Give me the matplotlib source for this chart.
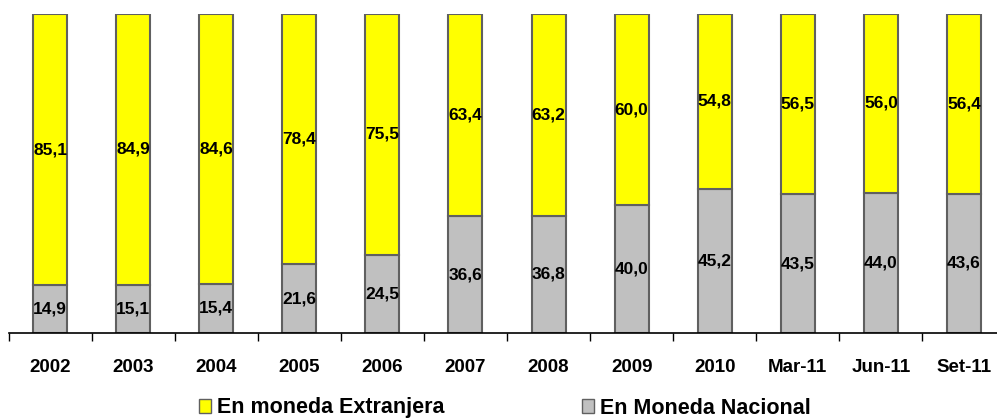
import matplotlib.pyplot as plt
from matplotlib.patches import Patch

plt.rcParams['font.family'] = ['Liberation Sans', 'DejaVu Sans']

categories = ["2002", "2003", "2004", "2005", "2006", "2007", "2008",
              "2009", "2010", "Mar-11", "Jun-11", "Set-11"]
nacional = [14.9, 15.1, 15.4, 21.6, 24.5, 36.6, 36.8, 40.0, 45.2, 43.5, 44.0, 43.6]
extranjera = [85.1, 84.9, 84.6, 78.4, 75.5, 63.4, 63.2, 60.0, 54.8, 56.5, 56.0, 56.4]

gray = "#C0C0C0"
yellow = "#FFFF00"
edge = "#606060"

fig = plt.figure(figsize=(9.97, 4.2), dpi=100)
ax = fig.add_axes([8.5 / 997, 1 - 333 / 420, 997 / 997, 319 / 420])

x = list(range(len(categories)))
w = 0.41
ax.bar(x, nacional, width=w, color=gray, edgecolor=edge, linewidth=1.5)
ax.bar(x, extranjera, width=w, bottom=nacional, color=yellow, edgecolor=edge, linewidth=1.5)

for i in x:
    ax.text(i, nacional[i] / 2, f"{nacional[i]:.1f}".replace(".", ","),
            ha="center", va="center", fontsize=12.5, fontweight="bold")
    ax.text(i, nacional[i] + extranjera[i] / 2, f"{extranjera[i]:.1f}".replace(".", ","),
            ha="center", va="center", fontsize=12.5, fontweight="bold")

ax.set_xlim(-0.5, len(categories) - 0.5)
ax.set_ylim(0, 100)
ax.set_yticks([])
for s in ["left", "right", "top"]:
    ax.spines[s].set_visible(False)
ax.spines["bottom"].set_linewidth(1.2)

ax.set_xticks(x)
ax.set_xticklabels(categories, fontsize=13.5, fontweight="bold")
ax.tick_params(axis="x", which="major", length=0, pad=18.5)
ax.set_xticks([i - 0.5 for i in range(len(categories) + 1)], minor=True)
ax.tick_params(axis="x", which="minor", length=6, width=1, direction="out")

handles = [Patch(facecolor=yellow, edgecolor=edge, label="En moneda Extranjera"),
           Patch(facecolor=gray, edgecolor=edge, label="En Moneda Nacional")]
leg = fig.legend(handles=handles, loc="center", bbox_to_anchor=(505 / 997, 1 - 408 / 420),
                 ncol=2, frameon=False, handlelength=0.56, handleheight=0.6,
                 handletextpad=0.28, columnspacing=6.4, borderpad=0,
                 prop={"size": 15.5, "weight": "bold"})

fig.savefig("out.png", dpi=100)
